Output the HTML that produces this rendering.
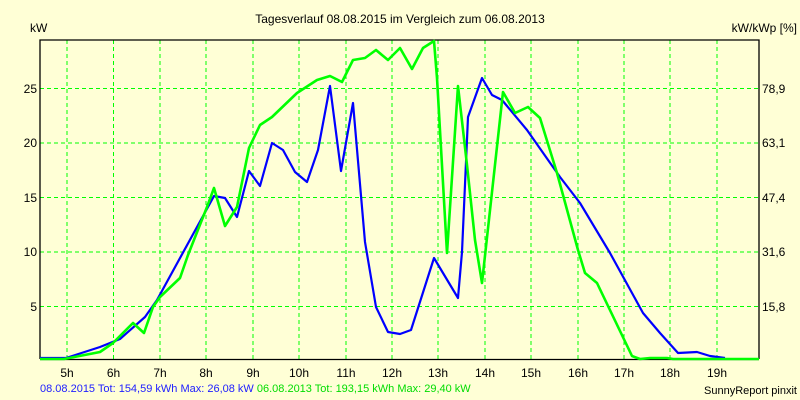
<!DOCTYPE html>
<html><head><meta charset="utf-8"><style>
body{margin:0;background:#FFFFD6;}
svg{display:block;font-family:"Liberation Sans",sans-serif;}
</style></head><body>
<svg width="800" height="400" viewBox="0 0 800 400">
<rect width="800" height="400" fill="#FFFFD6"/>
<g stroke="#00ff00" stroke-width="1" stroke-dasharray="4,3">
<line x1="67" y1="40" x2="67" y2="359"/><line x1="113.5" y1="40" x2="113.5" y2="359"/><line x1="160" y1="40" x2="160" y2="359"/><line x1="206" y1="40" x2="206" y2="359"/><line x1="253" y1="40" x2="253" y2="359"/><line x1="299" y1="40" x2="299" y2="359"/><line x1="346" y1="40" x2="346" y2="359"/><line x1="392" y1="40" x2="392" y2="359"/><line x1="438" y1="40" x2="438" y2="359"/><line x1="485" y1="40" x2="485" y2="359"/><line x1="531" y1="40" x2="531" y2="359"/><line x1="578" y1="40" x2="578" y2="359"/><line x1="624" y1="40" x2="624" y2="359"/><line x1="670" y1="40" x2="670" y2="359"/><line x1="717" y1="40" x2="717" y2="359"/>
<line x1="40" y1="88.5" x2="759" y2="88.5"/><line x1="40" y1="143" x2="759" y2="143"/><line x1="40" y1="197.5" x2="759" y2="197.5"/><line x1="40" y1="252" x2="759" y2="252"/><line x1="40" y1="306.5" x2="759" y2="306.5"/>
</g>
<g stroke="#000" stroke-width="1.3" fill="none"><polyline points="40,359 40,40 759,40 759,359"/><line x1="40" y1="359.5" x2="759" y2="359.5"/></g>
<polyline fill="none" stroke="#0000ff" stroke-width="2.2" stroke-linejoin="round" points="40,358 66,358 100,347 120,339 145,317 157,300 214,196 225,198 237,217 249,171 260,186 272,143 283,150 295,172 307,182 318,150 330,86 341,171 353,103 365,242 376,307 388,332 400,334 411,330 434,258 458,298 462,252 468,117 482,78 492,95 502,100 527,130 560,177 580,203 610,253 643,313 660,333 678,353 697,352 710,356 725,358"/>
<polyline fill="none" stroke="#00ff00" stroke-width="2.6" stroke-linejoin="round" points="40,359 64,359 100,352 113,343 133,323 144,333 153,307 160,297 180,278 188,255 207,207 214,188 225,226 237,207 249,148 260,125 272,117 297,93 317,80 330,76 342,82 353,60 365,58 376,50 388,60 400,48 412,69 423,48 434,41 437,78 447,253 458,86 467,165 475,240 482,283 503,92 515,113 528,107 540,118 557,173 578,250 585,273 597,283 632,356 640,359 650,358 667,358 673,359 759,359"/>
<g font-size="12" fill="#000">
<text x="400" y="23" text-anchor="middle">Tagesverlauf 08.08.2015 im Vergleich zum 06.08.2013</text>
<text x="30" y="32">kW</text>
<text x="797" y="32" text-anchor="end">kW/kWp [%]</text>
<g text-anchor="end"><text x="37" y="93">25</text><text x="37" y="147">20</text><text x="37" y="202">15</text><text x="37" y="256">10</text><text x="37" y="311">5</text></g>
<g><text x="762" y="93">78,9</text><text x="762" y="147">63,1</text><text x="762" y="202">47,4</text><text x="762" y="256">31,6</text><text x="762" y="311">15,8</text></g>
<g text-anchor="middle"><text x="67" y="377">5h</text><text x="113.5" y="377">6h</text><text x="160" y="377">7h</text><text x="206" y="377">8h</text><text x="253" y="377">9h</text><text x="299" y="377">10h</text><text x="346" y="377">11h</text><text x="392" y="377">12h</text><text x="438" y="377">13h</text><text x="485" y="377">14h</text><text x="531" y="377">15h</text><text x="578" y="377">16h</text><text x="624" y="377">17h</text><text x="670" y="377">18h</text><text x="717" y="377">19h</text></g>
<text x="797" y="394" text-anchor="end" font-size="11">SunnyReport pinxit</text>
</g>
<text x="40" y="392" font-size="11"><tspan fill="#2020ff">08.08.2015 Tot: 154,59 kWh Max: 26,08 kW</tspan><tspan fill="#00dd00"> 06.08.2013 Tot: 193,15 kWh Max: 29,40 kW</tspan></text>
</svg>
</body></html>
